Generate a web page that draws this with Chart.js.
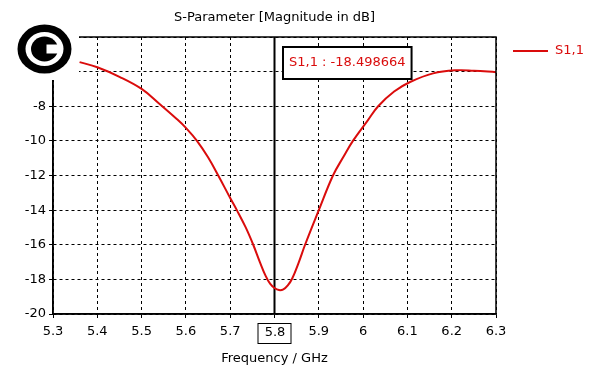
<!DOCTYPE html>
<html>
<head>
<meta charset="utf-8">
<script src="https://cdn.jsdelivr.net/npm/chart.js@4"></script>
<style>
  html, body { margin: 0; padding: 0; background: #fff; }
  #wrap { width: 615px; height: 366px; }
</style>
</head>
<body>
<div id="wrap"><canvas id="grafico" width="615" height="366"></canvas></div>
<script>
// valores
const frequencia = [5.36, 5.40, 5.45, 5.50, 5.54, 5.58, 5.60, 5.625, 5.65, 5.673, 5.70, 5.715, 5.735, 5.752, 5.767, 5.78, 5.79, 5.80, 5.81, 5.82, 5.83, 5.84, 5.855, 5.869, 5.90, 5.932, 5.955, 5.977, 6.011, 6.034, 6.07, 6.106, 6.158, 6.212, 6.25, 6.30];
const s11 = [-5.45, -5.75, -6.3, -7.0, -7.85, -8.75, -9.25, -10.0, -10.95, -12.0, -13.3, -14.0, -15.0, -16.0, -17.0, -17.8, -18.25, -18.5, -18.62, -18.58, -18.35, -17.95, -17.0, -16.0, -14.0, -12.0, -10.95, -10.0, -8.8, -8.0, -7.15, -6.6, -6.1, -5.92, -5.95, -6.03];
const marcadorX = 5.8;
const marcadorTexto = 'S1,1 : -18.498664';
const nomeSerie = 'S1,1';
const titulo = 'S-Parameter [Magnitude in dB]';

const vermelho = 'rgb(218,12,12)';
const fonte = 'DejaVu Sans';

const extras = {
  id: 'extras',
  beforeDatasetsDraw(chart) {
    const { ctx, chartArea: a, scales } = chart;
    const x = scales.x.getPixelForValue(marcadorX);
    ctx.save();
    ctx.strokeStyle = '#000';
    ctx.lineWidth = 2;
    ctx.beginPath();
    ctx.moveTo(x, a.top);
    ctx.lineTo(x, a.bottom);
    ctx.stroke();
    ctx.restore();
  },
  afterDraw(chart) {
    const { ctx, chartArea: a, scales } = chart;
    ctx.save();
    // moldura do grafico
    ctx.strokeStyle = '#000';
    ctx.lineWidth = 1.5;
    ctx.setLineDash([]);
    ctx.strokeRect(a.left, a.top, a.right - a.left, a.bottom - a.top);

    ctx.font = '13px "' + fonte + '"';
    ctx.textBaseline = 'middle';

    // titulo
    ctx.fillStyle = '#000';
    ctx.textAlign = 'center';
    ctx.fillText(titulo, (a.left + a.right) / 2, 18);

    // caixa do marcador
    const w = ctx.measureText(marcadorTexto).width;
    ctx.fillStyle = '#fff';
    ctx.fillRect(283, 47, w + 12, 32);
    ctx.lineWidth = 2;
    ctx.strokeRect(283, 47, w + 12, 32);
    ctx.fillStyle = vermelho;
    ctx.textAlign = 'left';
    ctx.fillText(marcadorTexto, 289, 63);

    // caixa do 5.8 no eixo x
    const x = scales.x.getPixelForValue(marcadorX);
    ctx.fillStyle = '#fff';
    ctx.fillRect(x - 16, 323, 33, 20);
    ctx.lineWidth = 1;
    ctx.strokeRect(x - 16.5, 323.5, 33, 20);
    ctx.fillStyle = '#000';
    ctx.textAlign = 'center';
    ctx.fillText('5.8', x + 0.5, 333);

    // legenda
    ctx.strokeStyle = vermelho;
    ctx.lineWidth = 2;
    ctx.beginPath();
    ctx.moveTo(513, 51);
    ctx.lineTo(548, 51);
    ctx.stroke();
    ctx.fillStyle = vermelho;
    ctx.textAlign = 'left';
    ctx.fillText(nomeSerie, 555, 51);

    // logo
    ctx.fillStyle = '#fff';
    ctx.fillRect(0, 24, 79, 56);
    const cx = 44.5, cy = 49;
    ctx.fillStyle = '#000';
    ctx.beginPath(); ctx.ellipse(cx, cy, 27, 24.5, 0, 0, Math.PI * 2); ctx.fill();
    ctx.fillStyle = '#fff';
    ctx.beginPath(); ctx.ellipse(cx, cy, 19, 17, 0, 0, Math.PI * 2); ctx.fill();
    ctx.fillStyle = '#000';
    ctx.beginPath(); ctx.ellipse(cx, cy, 13.5, 12.5, 0, 0, Math.PI * 2); ctx.fill();
    ctx.fillStyle = '#fff';
    ctx.fillRect(cx + 2, cy - 4.5, 16, 9);
    ctx.restore();
  }
};

const grade = {
  color: '#000',
  lineWidth: 1,
  tickLength: 4,
  tickColor: '#000',
  tickBorderDash: []
};

const borda = { display: true, color: '#000', width: 1.5, dash: [3, 3] };

new Chart(document.getElementById('grafico'), {
  type: 'line',
  data: {
    datasets: [{
      label: nomeSerie,
      data: frequencia.map((f, i) => ({ x: f, y: s11[i] })),
      borderColor: vermelho,
      borderWidth: 2,
      pointRadius: 0,
      tension: 0.4,
      fill: false
    }]
  },
  options: {
    responsive: false,
    animation: false,
    devicePixelRatio: 1,
    layout: { padding: { top: 37, right: 119, bottom: 0, left: 0 } },
    plugins: {
      legend: { display: false },
      tooltip: { enabled: false },
      title: { display: false }
    },
    scales: {
      x: {
        type: 'linear',
        min: 5.3,
        max: 6.3,
        ticks: {
          stepSize: 0.1,
          color: '#000',
          padding: 6,
          maxRotation: 0,
          font: { family: fonte, size: 13 },
          callback: v => {
            const r = Math.round(v * 10) / 10;
            if (Math.abs(r - marcadorX) < 1e-6) return '';
            return String(r);
          }
        },
        grid: grade,
        border: borda,
        title: {
          display: true,
          text: 'Frequency / GHz',
          color: '#000',
          font: { family: fonte, size: 13 },
          padding: { top: 4, bottom: 0 }
        },
        afterFit: s => { s.height = 52; }
      },
      y: {
        min: -20,
        max: -4,
        ticks: {
          stepSize: 2,
          color: '#000',
          padding: 3,
          font: { family: fonte, size: 13 }
        },
        grid: grade,
        border: borda,
        afterFit: s => { s.width = 53; }
      }
    }
  },
  plugins: [extras]
});
</script>
</body>
</html>
